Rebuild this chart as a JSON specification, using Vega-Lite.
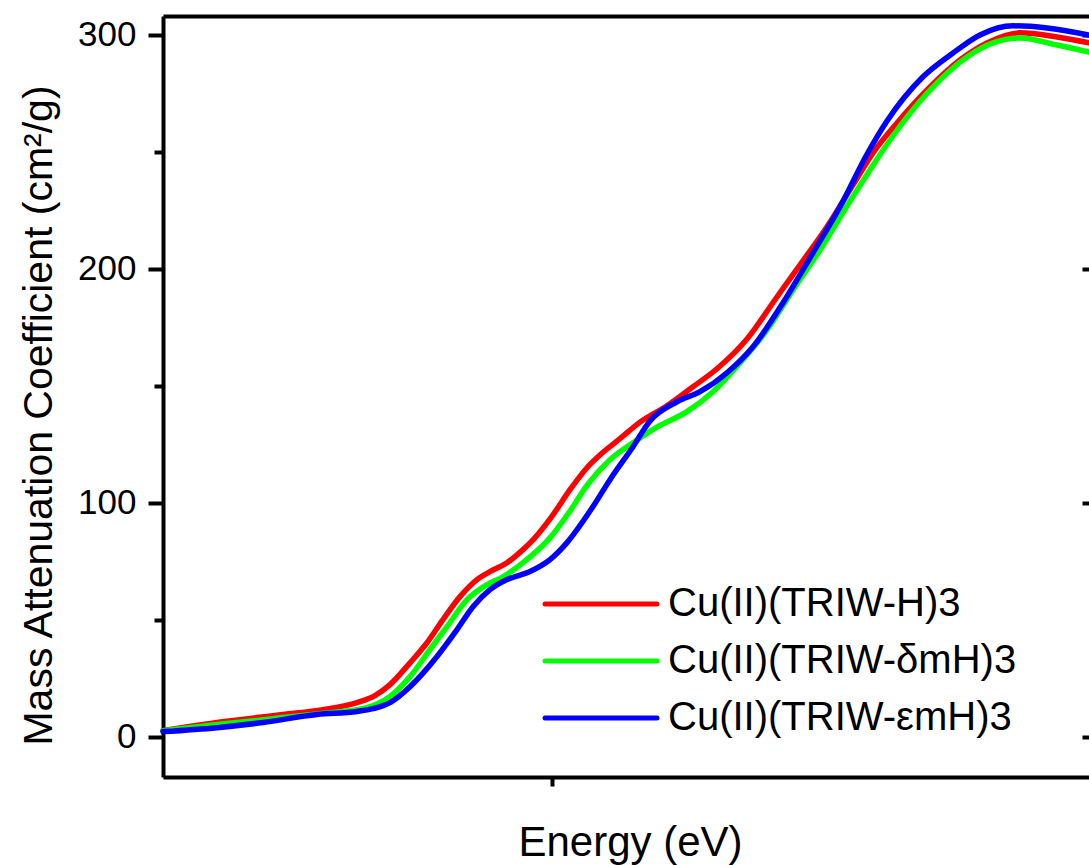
{
  "$schema": "https://vega.github.io/schema/vega-lite/v6.json",
  "autosize": {"type": "none"},
  "padding": {"left": 163, "top": 16, "right": 0, "bottom": 88},
  "width": 926,
  "height": 761,
  "config": {
    "font": "Liberation Sans",
    "view": {"stroke": null},
    "axis": {"grid": false, "domainColor": "#000000", "tickColor": "#000000", "labelColor": "#000000", "titleColor": "#000000", "titleFontWeight": "normal"}
  },
  "data": {
    "values": [
      {"e": 0, "mu": 2.6, "s": "Cu(II)(TRIW-H)3"},
      {"e": 54, "mu": 6.1, "s": "Cu(II)(TRIW-H)3"},
      {"e": 120, "mu": 9.5, "s": "Cu(II)(TRIW-H)3"},
      {"e": 160, "mu": 11.6, "s": "Cu(II)(TRIW-H)3"},
      {"e": 194, "mu": 14.6, "s": "Cu(II)(TRIW-H)3"},
      {"e": 212, "mu": 17.6, "s": "Cu(II)(TRIW-H)3"},
      {"e": 227, "mu": 22.3, "s": "Cu(II)(TRIW-H)3"},
      {"e": 247, "mu": 31.6, "s": "Cu(II)(TRIW-H)3"},
      {"e": 264, "mu": 40.2, "s": "Cu(II)(TRIW-H)3"},
      {"e": 280, "mu": 50.1, "s": "Cu(II)(TRIW-H)3"},
      {"e": 297, "mu": 59.9, "s": "Cu(II)(TRIW-H)3"},
      {"e": 314, "mu": 67.2, "s": "Cu(II)(TRIW-H)3"},
      {"e": 327, "mu": 70.6, "s": "Cu(II)(TRIW-H)3"},
      {"e": 344, "mu": 74.4, "s": "Cu(II)(TRIW-H)3"},
      {"e": 360, "mu": 80.0, "s": "Cu(II)(TRIW-H)3"},
      {"e": 370, "mu": 84.2, "s": "Cu(II)(TRIW-H)3"},
      {"e": 390, "mu": 94.9, "s": "Cu(II)(TRIW-H)3"},
      {"e": 407, "mu": 105.6, "s": "Cu(II)(TRIW-H)3"},
      {"e": 424, "mu": 115.0, "s": "Cu(II)(TRIW-H)3"},
      {"e": 440, "mu": 121.6, "s": "Cu(II)(TRIW-H)3"},
      {"e": 457, "mu": 127.4, "s": "Cu(II)(TRIW-H)3"},
      {"e": 477, "mu": 134.5, "s": "Cu(II)(TRIW-H)3"},
      {"e": 504, "mu": 141.5, "s": "Cu(II)(TRIW-H)3"},
      {"e": 530, "mu": 149.6, "s": "Cu(II)(TRIW-H)3"},
      {"e": 554, "mu": 157.3, "s": "Cu(II)(TRIW-H)3"},
      {"e": 584, "mu": 170.0, "s": "Cu(II)(TRIW-H)3"},
      {"e": 612, "mu": 186.8, "s": "Cu(II)(TRIW-H)3"},
      {"e": 637, "mu": 201.7, "s": "Cu(II)(TRIW-H)3"},
      {"e": 664, "mu": 218.0, "s": "Cu(II)(TRIW-H)3"},
      {"e": 690, "mu": 235.9, "s": "Cu(II)(TRIW-H)3"},
      {"e": 710, "mu": 249.6, "s": "Cu(II)(TRIW-H)3"},
      {"e": 734, "mu": 262.4, "s": "Cu(II)(TRIW-H)3"},
      {"e": 767, "mu": 277.8, "s": "Cu(II)(TRIW-H)3"},
      {"e": 797, "mu": 289.3, "s": "Cu(II)(TRIW-H)3"},
      {"e": 824, "mu": 296.6, "s": "Cu(II)(TRIW-H)3"},
      {"e": 857, "mu": 300.9, "s": "Cu(II)(TRIW-H)3"},
      {"e": 894, "mu": 299.1, "s": "Cu(II)(TRIW-H)3"},
      {"e": 926, "mu": 296.6, "s": "Cu(II)(TRIW-H)3"},

      {"e": 0, "mu": 2.6, "s": "Cu(II)(TRIW-δmH)3"},
      {"e": 54, "mu": 5.2, "s": "Cu(II)(TRIW-δmH)3"},
      {"e": 120, "mu": 8.2, "s": "Cu(II)(TRIW-δmH)3"},
      {"e": 167, "mu": 10.3, "s": "Cu(II)(TRIW-δmH)3"},
      {"e": 200, "mu": 12.0, "s": "Cu(II)(TRIW-δmH)3"},
      {"e": 227, "mu": 17.2, "s": "Cu(II)(TRIW-δmH)3"},
      {"e": 247, "mu": 25.7, "s": "Cu(II)(TRIW-δmH)3"},
      {"e": 267, "mu": 37.3, "s": "Cu(II)(TRIW-δmH)3"},
      {"e": 284, "mu": 47.1, "s": "Cu(II)(TRIW-δmH)3"},
      {"e": 304, "mu": 58.6, "s": "Cu(II)(TRIW-δmH)3"},
      {"e": 324, "mu": 65.0, "s": "Cu(II)(TRIW-δmH)3"},
      {"e": 340, "mu": 68.4, "s": "Cu(II)(TRIW-δmH)3"},
      {"e": 360, "mu": 74.4, "s": "Cu(II)(TRIW-δmH)3"},
      {"e": 387, "mu": 85.0, "s": "Cu(II)(TRIW-δmH)3"},
      {"e": 407, "mu": 96.5, "s": "Cu(II)(TRIW-δmH)3"},
      {"e": 424, "mu": 107.5, "s": "Cu(II)(TRIW-δmH)3"},
      {"e": 447, "mu": 118.4, "s": "Cu(II)(TRIW-δmH)3"},
      {"e": 470, "mu": 125.7, "s": "Cu(II)(TRIW-δmH)3"},
      {"e": 494, "mu": 132.4, "s": "Cu(II)(TRIW-δmH)3"},
      {"e": 524, "mu": 139.0, "s": "Cu(II)(TRIW-δmH)3"},
      {"e": 550, "mu": 147.5, "s": "Cu(II)(TRIW-δmH)3"},
      {"e": 577, "mu": 159.8, "s": "Cu(II)(TRIW-δmH)3"},
      {"e": 604, "mu": 173.9, "s": "Cu(II)(TRIW-δmH)3"},
      {"e": 630, "mu": 191.0, "s": "Cu(II)(TRIW-δmH)3"},
      {"e": 657, "mu": 208.1, "s": "Cu(II)(TRIW-δmH)3"},
      {"e": 684, "mu": 226.9, "s": "Cu(II)(TRIW-δmH)3"},
      {"e": 707, "mu": 242.3, "s": "Cu(II)(TRIW-δmH)3"},
      {"e": 727, "mu": 255.1, "s": "Cu(II)(TRIW-δmH)3"},
      {"e": 767, "mu": 276.4, "s": "Cu(II)(TRIW-δmH)3"},
      {"e": 804, "mu": 290.6, "s": "Cu(II)(TRIW-δmH)3"},
      {"e": 830, "mu": 296.6, "s": "Cu(II)(TRIW-δmH)3"},
      {"e": 857, "mu": 298.7, "s": "Cu(II)(TRIW-δmH)3"},
      {"e": 894, "mu": 295.7, "s": "Cu(II)(TRIW-δmH)3"},
      {"e": 926, "mu": 292.7, "s": "Cu(II)(TRIW-δmH)3"},

      {"e": 0, "mu": 2.2, "s": "Cu(II)(TRIW-εmH)3"},
      {"e": 54, "mu": 3.9, "s": "Cu(II)(TRIW-εmH)3"},
      {"e": 100, "mu": 6.1, "s": "Cu(II)(TRIW-εmH)3"},
      {"e": 154, "mu": 9.5, "s": "Cu(II)(TRIW-εmH)3"},
      {"e": 194, "mu": 10.8, "s": "Cu(II)(TRIW-εmH)3"},
      {"e": 210, "mu": 12.0, "s": "Cu(II)(TRIW-εmH)3"},
      {"e": 227, "mu": 14.6, "s": "Cu(II)(TRIW-εmH)3"},
      {"e": 247, "mu": 21.4, "s": "Cu(II)(TRIW-εmH)3"},
      {"e": 274, "mu": 34.3, "s": "Cu(II)(TRIW-εmH)3"},
      {"e": 294, "mu": 45.8, "s": "Cu(II)(TRIW-εmH)3"},
      {"e": 310, "mu": 55.6, "s": "Cu(II)(TRIW-εmH)3"},
      {"e": 327, "mu": 62.9, "s": "Cu(II)(TRIW-εmH)3"},
      {"e": 344, "mu": 67.2, "s": "Cu(II)(TRIW-εmH)3"},
      {"e": 367, "mu": 70.6, "s": "Cu(II)(TRIW-εmH)3"},
      {"e": 387, "mu": 75.7, "s": "Cu(II)(TRIW-εmH)3"},
      {"e": 404, "mu": 83.0, "s": "Cu(II)(TRIW-εmH)3"},
      {"e": 430, "mu": 98.4, "s": "Cu(II)(TRIW-εmH)3"},
      {"e": 447, "mu": 109.9, "s": "Cu(II)(TRIW-εmH)3"},
      {"e": 470, "mu": 124.0, "s": "Cu(II)(TRIW-εmH)3"},
      {"e": 487, "mu": 135.0, "s": "Cu(II)(TRIW-εmH)3"},
      {"e": 514, "mu": 143.2, "s": "Cu(II)(TRIW-εmH)3"},
      {"e": 537, "mu": 147.5, "s": "Cu(II)(TRIW-εmH)3"},
      {"e": 564, "mu": 155.6, "s": "Cu(II)(TRIW-εmH)3"},
      {"e": 590, "mu": 166.7, "s": "Cu(II)(TRIW-εmH)3"},
      {"e": 620, "mu": 185.5, "s": "Cu(II)(TRIW-εmH)3"},
      {"e": 650, "mu": 206.9, "s": "Cu(II)(TRIW-εmH)3"},
      {"e": 677, "mu": 226.5, "s": "Cu(II)(TRIW-εmH)3"},
      {"e": 704, "mu": 249.0, "s": "Cu(II)(TRIW-εmH)3"},
      {"e": 724, "mu": 263.2, "s": "Cu(II)(TRIW-εmH)3"},
      {"e": 760, "mu": 282.1, "s": "Cu(II)(TRIW-εmH)3"},
      {"e": 790, "mu": 292.3, "s": "Cu(II)(TRIW-εmH)3"},
      {"e": 817, "mu": 300.0, "s": "Cu(II)(TRIW-εmH)3"},
      {"e": 850, "mu": 303.9, "s": "Cu(II)(TRIW-εmH)3"},
      {"e": 884, "mu": 303.0, "s": "Cu(II)(TRIW-εmH)3"},
      {"e": 926, "mu": 300.0, "s": "Cu(II)(TRIW-εmH)3"}
    ]
  },
  "resolve": {"axis": {"x": "independent", "y": "independent"}},
  "layer": [
    {
      "mark": {"type": "line", "strokeWidth": 5.5, "interpolate": "monotone", "strokeCap": "round", "strokeJoin": "round"},
      "encoding": {
        "x": {
          "field": "e", "type": "quantitative",
          "scale": {"domain": [0, 926], "nice": false, "zero": false},
          "axis": {
            "orient": "bottom", "values": [389], "labels": false,
            "tickSize": 9, "tickWidth": 4, "domainWidth": 4,
            "title": "Energy (eV)", "titleFontSize": 42, "titleX": 467, "titleY": 78,
            "titleBaseline": "alphabetic", "titleAlign": "center"
          }
        },
        "y": {
          "field": "mu", "type": "quantitative",
          "scale": {"domain": [-17.2, 308.1], "nice": false, "zero": false},
          "axis": {
            "orient": "left", "values": [0, 100, 200, 300],
            "tickSize": 15, "tickWidth": 4, "domainWidth": 4,
            "labelFontSize": 35, "labelPadding": 12,
            "title": "Mass Attenuation Coefficient (cm²/g)", "titleFontSize": 41,
            "titleX": -112, "titleY": 399, "titleAngle": 270,
            "titleBaseline": "alphabetic", "titleAlign": "center"
          }
        },
        "color": {
          "field": "s", "type": "nominal",
          "scale": {
            "domain": ["Cu(II)(TRIW-H)3", "Cu(II)(TRIW-δmH)3", "Cu(II)(TRIW-εmH)3"],
            "range": ["#FF0000", "#00FF00", "#0000FF"]
          },
          "legend": {
            "orient": "none", "legendX": 418, "legendY": 568, "title": null, "padding": 0,
            "symbolType": "M-4,0H4", "symbolSize": 784, "symbolStrokeWidth": 5,
            "labelFontSize": 40, "labelOffset": 47, "labelColor": "#000000", "labelLimit": 600,
            "rowPadding": 17,
            "encode": {"symbols": {"update": {"strokeCap": {"value": "round"}}}}
          }
        }
      }
    },
    {
      "mark": {"type": "line", "strokeOpacity": 0, "opacity": 0},
      "encoding": {
        "x": {
          "field": "e", "type": "quantitative",
          "scale": {"domain": [0, 926], "nice": false, "zero": false},
          "axis": {"orient": "top", "ticks": false, "labels": false, "title": null, "domainWidth": 4}
        },
        "y": {
          "field": "mu", "type": "quantitative",
          "scale": {"domain": [-17.2, 308.1], "nice": false, "zero": false},
          "axis": {"orient": "left", "values": [50, 150, 250], "tickSize": 9, "tickWidth": 4, "labels": false, "domain": false, "title": null}
        }
      }
    },
    {
      "mark": {"type": "line", "strokeOpacity": 0, "opacity": 0},
      "encoding": {
        "x": {
          "field": "e", "type": "quantitative",
          "scale": {"domain": [0, 926], "nice": false, "zero": false},
          "axis": null
        },
        "y": {
          "field": "mu", "type": "quantitative",
          "scale": {"domain": [-17.2, 308.1], "nice": false, "zero": false},
          "axis": {"orient": "left", "offset": -926, "values": [0, 100, 200, 300], "tickSize": 7, "tickWidth": 4, "labels": false, "domain": false, "title": null}
        }
      }
    }
  ]
}
